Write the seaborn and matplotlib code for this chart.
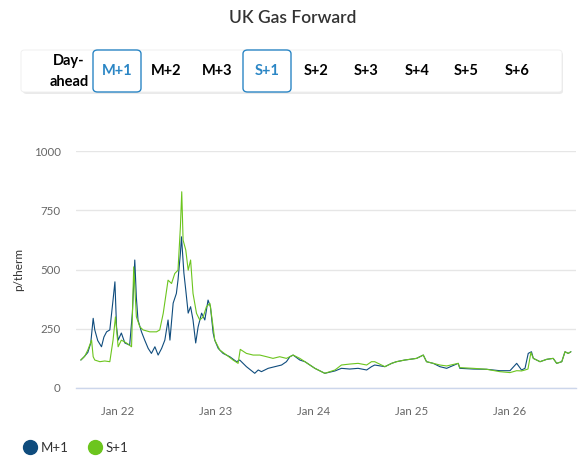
import pandas as pd
import matplotlib.pyplot as plt
import seaborn as sns
from matplotlib.patches import FancyBboxPatch
from matplotlib.lines import Line2D
import matplotlib.dates as mdates

# M+1 forward (p/therm)
m1_dates = ["2021-08-16", "2021-08-27", "2021-09-11", "2021-09-22", "2021-10-01", "2021-10-07",
            "2021-10-18", "2021-11-01", "2021-11-10", "2021-11-20", "2021-12-02", "2021-12-14",
            "2021-12-21", "2021-12-27", "2022-01-02", "2022-01-14", "2022-01-27", "2022-02-14",
            "2022-02-24", "2022-03-05", "2022-03-11", "2022-03-17", "2022-03-30", "2022-04-11",
            "2022-04-24", "2022-05-06", "2022-05-19", "2022-05-31", "2022-06-13", "2022-06-25",
            "2022-07-07", "2022-07-14", "2022-07-26", "2022-08-07", "2022-08-13", "2022-08-22",
            "2022-08-26", "2022-09-04", "2022-09-11", "2022-09-20", "2022-09-29", "2022-10-08",
            "2022-10-18", "2022-10-27", "2022-11-09", "2022-11-21", "2022-12-03", "2022-12-12",
            "2022-12-22", "2022-12-28", "2023-01-10", "2023-01-28", "2023-02-22", "2023-03-19",
            "2023-03-31", "2023-04-25", "2023-05-26", "2023-06-08", "2023-06-20", "2023-07-15",
            "2023-08-09", "2023-09-03", "2023-09-21", "2023-10-04", "2023-10-16", "2023-11-10",
            "2023-11-29", "2024-01-05", "2024-02-11", "2024-03-20", "2024-04-13", "2024-05-14",
            "2024-06-14", "2024-07-16", "2024-08-03", "2024-08-15", "2024-09-22", "2024-10-17",
            "2024-11-04", "2024-12-05", "2024-12-24", "2025-01-18", "2025-02-12", "2025-02-24",
            "2025-03-21", "2025-04-15", "2025-05-10", "2025-06-22", "2025-06-28", "2025-08-17",
            "2025-10-06", "2025-11-24", "2026-01-01", "2026-01-26", "2026-02-13", "2026-02-26",
            "2026-03-10", "2026-03-22", "2026-03-29", "2026-04-23", "2026-05-18", "2026-06-11",
            "2026-06-24", "2026-07-13", "2026-07-25", "2026-08-06", "2026-08-16"]
m1_vals = [118, 130, 150, 190, 294, 245,
           200, 174, 215, 237, 245, 371,
           448, 258, 202, 232, 190, 181,
           316, 540, 380, 287, 237, 202,
           167, 146, 174, 139, 167, 202,
           287, 202, 358, 399, 455, 568,
           638, 485, 413, 316, 343, 287,
           190, 258, 316, 287, 371, 343,
           232, 202, 167, 146, 132, 111,
           118, 90, 62, 76, 69, 83,
           90, 97, 111, 132, 139, 118,
           111, 83, 62, 72, 83, 80,
           83, 76, 90, 97, 90, 104,
           111, 118, 121, 125, 139, 111,
           104, 90, 83, 104, 83, 80,
           79, 73, 73, 104, 76, 83,
           146, 153, 125, 111, 121, 125,
           104, 111, 153, 146, 153]

# S+1 forward (p/therm)
s1_dates = ["2021-08-16", "2021-08-31", "2021-09-11", "2021-09-25", "2021-10-01", "2021-10-07",
            "2021-10-26", "2021-11-13", "2021-12-02", "2021-12-14", "2021-12-23", "2022-01-02",
            "2022-01-14", "2022-02-02", "2022-02-21", "2022-03-01", "2022-03-11", "2022-03-24",
            "2022-04-05", "2022-04-30", "2022-05-25", "2022-06-06", "2022-06-19", "2022-07-07",
            "2022-07-20", "2022-08-01", "2022-08-13", "2022-08-22", "2022-08-27", "2022-09-01",
            "2022-09-11", "2022-09-20", "2022-09-29", "2022-10-08", "2022-10-21", "2022-11-02",
            "2022-11-15", "2022-11-27", "2022-12-10", "2022-12-20", "2022-12-28", "2023-01-16",
            "2023-02-10", "2023-03-06", "2023-03-25", "2023-04-02", "2023-04-25", "2023-05-20",
            "2023-06-14", "2023-07-09", "2023-08-02", "2023-08-27", "2023-09-21", "2023-10-16",
            "2023-11-10", "2023-11-29", "2024-01-05", "2024-02-11", "2024-03-20", "2024-04-13",
            "2024-05-14", "2024-06-14", "2024-07-16", "2024-08-03", "2024-08-15", "2024-09-22",
            "2024-10-17", "2024-11-04", "2024-12-05", "2024-12-24", "2025-01-18", "2025-02-12",
            "2025-02-24", "2025-03-21", "2025-04-15", "2025-05-10", "2025-06-22", "2025-06-28",
            "2025-08-17", "2025-10-06", "2025-11-24", "2026-01-01", "2026-01-26", "2026-02-13",
            "2026-02-26", "2026-03-09", "2026-03-20", "2026-03-29", "2026-04-23", "2026-05-18",
            "2026-06-11", "2026-06-24", "2026-07-13", "2026-07-25", "2026-08-06", "2026-08-16"]
s1_vals = [118, 135, 160, 202, 132, 118,
           111, 114, 111, 202, 300, 174,
           202, 190, 174, 511, 300, 258,
           245, 237, 237, 245, 315, 455,
           441, 483, 497, 680, 828, 624,
           582, 497, 540, 399, 315, 287,
           300, 343, 357, 274, 202, 160,
           139, 118, 104, 163, 146, 139,
           139, 132, 125, 132, 125, 139,
           125, 111, 83, 62, 76, 97,
           101, 104, 97, 111, 111, 90,
           104, 111, 118, 121, 125, 139,
           111, 104, 97, 93, 104, 86,
           83, 79, 69, 65, 73, 72,
           76, 80, 150, 125, 111, 121,
           125, 104, 111, 153, 146, 153]

buttons = ["M+1", "M+2", "M+3", "S+1", "S+2", "S+3", "S+4", "S+5", "S+6"]
active = ["M+1", "S+1"]
y_ticks = [0, 250, 500, 750, 1000]

df = pd.concat([
    pd.DataFrame({"date": pd.to_datetime(m1_dates), "price": m1_vals, "series": "M+1"}),
    pd.DataFrame({"date": pd.to_datetime(s1_dates), "price": s1_vals, "series": "S+1"}),
])

sns.set_style("white")
plt.rcParams["font.family"] = ["Lato", "DejaVu Sans"]

blue = "#0f4c7d"
green = "#6cc51e"
hl = "#2b86c5"

fig = plt.figure(figsize=(5.86, 4.75), dpi=100)
W, H = 586, 475

def fx(px):
    return px / W

def fy(py):
    return 1 - py / H

ax = fig.add_axes([fx(76), fy(388), fx(576) - fx(76), fy(151) - fy(388)])
sns.lineplot(data=df, x="date", y="price", hue="series", palette={"M+1": blue, "S+1": green},
             linewidth=0.8, ax=ax, legend=False)

ax.set_ylim(0, 1000)
ax.set_xlim(pd.Timestamp("2021-07-29"), pd.Timestamp("2026-09-04"))
ax.set_yticks(y_ticks)
ax.yaxis.grid(True, color="#e6e6e6", linewidth=1)
ax.set_axisbelow(True)
for s in ["left", "right", "top"]:
    ax.spines[s].set_visible(False)
ax.spines["bottom"].set_color("#ccd6eb")
ax.spines["bottom"].set_linewidth(1)
ax.xaxis.set_major_locator(mdates.YearLocator())
ax.xaxis.set_major_formatter(mdates.DateFormatter("Jan %y"))
ax.tick_params(axis="x", length=7, width=1, color="#ccd6eb", labelsize=8.3, labelcolor="#666666", pad=6)
ax.tick_params(axis="y", length=0, labelsize=8.3, labelcolor="#666666", pad=11)
ax.set_xlabel("")
ax.set_ylabel("p/therm", fontsize=8.5, color="#333333")
ax.yaxis.set_label_coords(-0.104, 0.5)

# title
fig.text(0.5, fy(18), "UK Gas Forward", ha="center", va="center", fontsize=12.5,
         fontweight="semibold", color="#333333")

# button bar with a soft shadow
shadow = FancyBboxPatch((fx(23), fy(94)), fx(563) - fx(23), fy(52) - fy(94),
                        boxstyle="round,pad=0,rounding_size=0.006", transform=fig.transFigure,
                        facecolor="#dddddd", edgecolor="none", alpha=0.6, zorder=0)
fig.patches.append(shadow)
bar = FancyBboxPatch((fx(21), fy(92)), fx(562) - fx(21), fy(50) - fy(92),
                     boxstyle="round,pad=0,rounding_size=0.006", transform=fig.transFigure,
                     facecolor="white", edgecolor="#eeeeee", linewidth=0.6, zorder=1)
fig.patches.append(bar)

fig.text(fx(69), fy(61), "Day-", ha="center", va="center", fontsize=10.5, fontweight="bold", color="black")
fig.text(fx(69), fy(82), "ahead", ha="center", va="center", fontsize=10.5, fontweight="bold", color="black")

btn_x = [117, 166, 217, 267, 316, 366, 417, 466, 517]
for name, cx in zip(buttons, btn_x):
    if name in active:
        box = FancyBboxPatch((fx(cx - 24), fy(92)), fx(48), fy(50) - fy(92),
                             boxstyle="round,pad=0,rounding_size=0.008", transform=fig.transFigure,
                             facecolor="white", edgecolor=hl, linewidth=1.0, zorder=2)
        fig.patches.append(box)
        col = hl
    else:
        col = "black"
    fig.text(fx(cx), fy(71), name, ha="center", va="center", fontsize=10.5, fontweight="bold",
             color=col, zorder=3)

# legend
handles = [Line2D([], [], marker="o", linestyle="none", markersize=10, markerfacecolor=blue,
                  markeredgecolor=blue),
           Line2D([], [], marker="o", linestyle="none", markersize=10, markerfacecolor=green,
                  markeredgecolor=green)]
fig.legend(handles, ["M+1", "S+1"], loc="center left", bbox_to_anchor=(fx(10), fy(448)),
           ncol=2, frameon=False, fontsize=9.5, handletextpad=0.2, columnspacing=1.4,
           labelcolor="#333333", handlelength=1.2)

plt.savefig("out.png", dpi=100)
